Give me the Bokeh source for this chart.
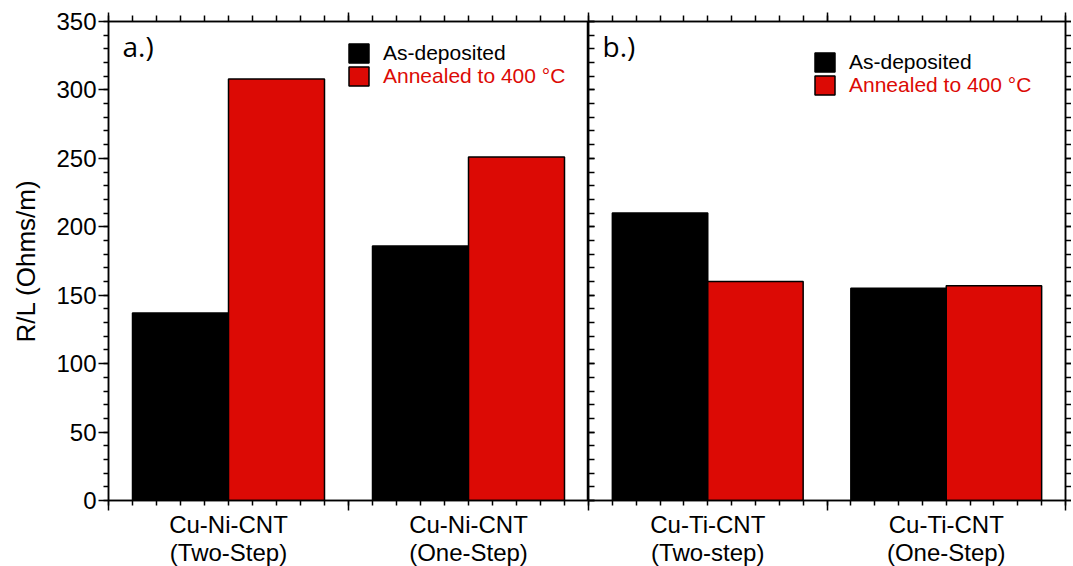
from bokeh.plotting import figure
from bokeh.models import Range1d, FixedTicker, LinearAxis, Legend, LegendItem, Label
from bokeh.layouts import row
from bokeh.embed import file_html
from bokeh.resources import INLINE

# ---------------- data ----------------
panel_tags = ["a.)", "b.)"]
categories_a = ["Cu-Ni-CNT\n(Two-Step)", "Cu-Ni-CNT\n(One-Step)"]
categories_b = ["Cu-Ti-CNT\n(Two-step)", "Cu-Ti-CNT\n(One-Step)"]
as_deposited_a = [137, 186]
annealed_a = [308, 251]
as_deposited_b = [210, 155]
annealed_b = [160, 157]
series_labels = ["As-deposited", "Annealed to 400 °C"]
y_ticks = [0, 50, 100, 150, 200, 250, 300, 350]
y_minor = list(range(0, 351, 10))
y_label = "R/L (Ohms/m)"

RED = "#DC0A05"
FONT = "Liberation Sans"
LW = 1.5


def hidden_label_axis(**kw):
    return LinearAxis(major_label_text_font_size="1px", major_label_text_color=None,
                      major_label_standoff=0, axis_line_width=LW,
                      major_tick_line_width=LW, minor_tick_line_width=LW, **kw)


def make_panel(cats, dep, ann, tag, first, frame_width, leg_x, leg_y):
    n = len(cats)
    p = figure(frame_width=frame_width, frame_height=479,
               x_range=Range1d(0, n), y_range=Range1d(0, 350),
               x_axis_location=None, y_axis_location=None,
               output_backend="svg", toolbar_location=None,
               min_border_top=21, min_border_bottom=64,
               min_border_left=108 if first else 0, min_border_right=0,
               background_fill_color="white", border_fill_color="white")
    p.grid.visible = False
    p.outline_line_color = "black"
    p.outline_line_width = LW

    x_minor = [round(k * 0.1, 1) for k in range(0, n * 10 + 1)]
    x_major = list(range(0, n + 1))

    # bottom axis (ticks only)
    p.add_layout(hidden_label_axis(ticker=FixedTicker(ticks=x_major, minor_ticks=x_minor),
                                   major_tick_out=10, major_tick_in=0,
                                   minor_tick_out=5, minor_tick_in=0), "below")
    # bottom axis (category labels only)
    centers = [i + 0.5 for i in range(n)]
    p.add_layout(LinearAxis(ticker=FixedTicker(ticks=centers, minor_ticks=[]),
                            major_label_overrides={c: t for c, t in zip(centers, cats)},
                            major_tick_out=0, major_tick_in=0, axis_line_color=None,
                            major_tick_line_color=None, minor_tick_line_color=None,
                            major_label_standoff=0, major_label_text_font=FONT,
                            major_label_text_font_size="24px",
                            major_label_text_line_height=1.05,
                            major_label_text_color="black"), "below")
    # top axis (ticks only)
    p.add_layout(hidden_label_axis(ticker=FixedTicker(ticks=x_major, minor_ticks=x_minor),
                                   major_tick_out=9, major_tick_in=0,
                                   minor_tick_out=6, minor_tick_in=0), "above")

    if first:
        ly = LinearAxis(ticker=FixedTicker(ticks=y_ticks, minor_ticks=y_minor),
                        major_tick_out=10, major_tick_in=0, minor_tick_out=5, minor_tick_in=0,
                        major_label_text_font=FONT, major_label_text_font_size="24px",
                        major_label_text_color="black", major_label_standoff=2,
                        axis_label=y_label, axis_label_text_font=FONT,
                        axis_label_text_font_size="26px", axis_label_text_font_style="normal",
                        axis_label_text_color="black", axis_label_standoff=12,
                        axis_line_width=LW, major_tick_line_width=LW, minor_tick_line_width=LW)
        p.add_layout(ly, "left")
    else:
        p.add_layout(hidden_label_axis(ticker=FixedTicker(ticks=y_ticks, minor_ticks=y_minor),
                                       major_tick_out=0, major_tick_in=6,
                                       minor_tick_out=0, minor_tick_in=6), "left")
        p.add_layout(hidden_label_axis(ticker=FixedTicker(ticks=y_ticks, minor_ticks=y_minor),
                                       major_tick_out=6, major_tick_in=0,
                                       minor_tick_out=6, minor_tick_in=0), "right")

    xs_dep = [i + 0.3 for i in range(n)]
    xs_ann = [i + 0.7 for i in range(n)]
    r1 = p.vbar(x=xs_dep, top=dep, width=0.4, fill_color="black",
                line_color="black", line_width=LW)
    r2 = p.vbar(x=xs_ann, top=ann, width=0.4, fill_color=RED,
                line_color="black", line_width=LW)

    for k, (r, col) in enumerate([(r1, "black"), (r2, RED)]):
        leg = Legend(items=[LegendItem(label=series_labels[k], renderers=[r])],
                     location=(leg_x, leg_y - 23 * k),
                     glyph_width=25, glyph_height=24, label_height=21,
                     label_standoff=12, padding=0, margin=0, spacing=0,
                     border_line_color=None, background_fill_alpha=0,
                     label_text_font=FONT, label_text_font_size="21px",
                     label_text_color=col)
        p.add_layout(leg)

    p.add_layout(Label(x=14, y=455, x_units="screen", y_units="screen", text=tag,
                       text_font="Open Sans", text_font_size="28px",
                       text_baseline="middle", text_color="black"))
    return p


p1 = make_panel(categories_a, as_deposited_a, annealed_a, panel_tags[0], True, 480, 238, 435)
p2 = make_panel(categories_b, as_deposited_b, annealed_b, panel_tags[1], False, 477, 224, 426)

layout = row(p1, p2)
open("out.html", "w").write(file_html(layout, INLINE))
